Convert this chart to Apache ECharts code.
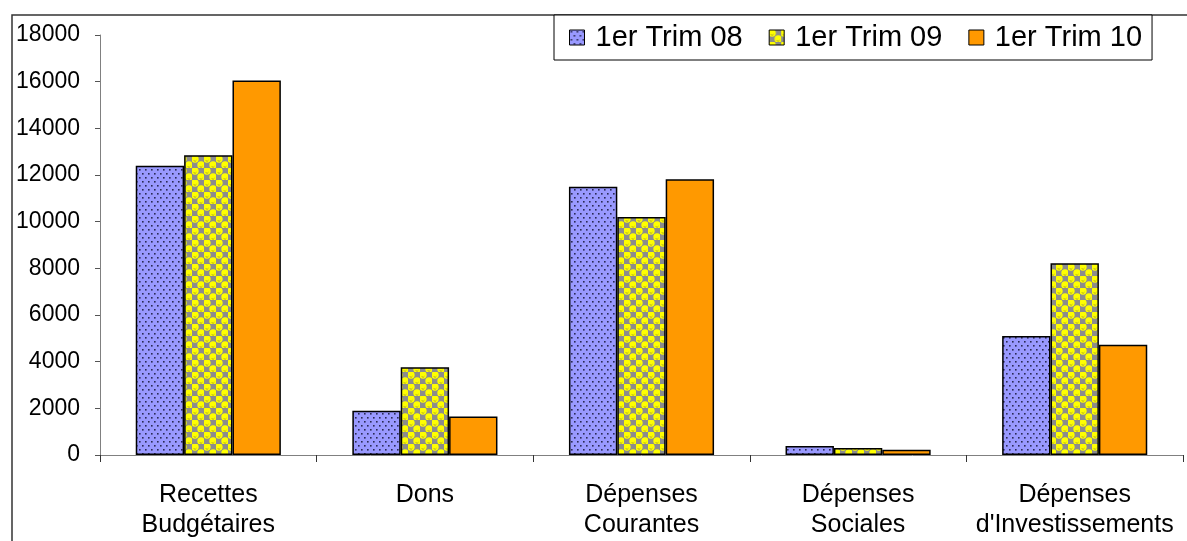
<!DOCTYPE html>
<html>
<head>
<meta charset="utf-8">
<script src="https://cdn.jsdelivr.net/npm/echarts@6/dist/echarts.min.js"></script>
<style>
  html, body { margin: 0; padding: 0; background: #ffffff; }
  #chart { width: 1187px; height: 541px; }
</style>
</head>
<body>
<div id="chart"></div>
<script>
const categories = ['Recettes\nBudgétaires', 'Dons', 'Dépenses\nCourantes', 'Dépenses\nSociales', "Dépenses\nd'Investissements"];
const seriesNames = ['1er Trim 08', '1er Trim 09', '1er Trim 10'];
const trim08 = [12400, 1900, 11500, 390, 5100];
const trim09 = [12850, 3760, 10200, 300, 8220];
const trim10 = [16050, 1650, 11820, 230, 4720];
const yTicks = { min: 0, max: 18000, interval: 2000 };

function dotPattern() {
  const c = document.createElement('canvas');
  c.width = 6; c.height = 8;
  const g = c.getContext('2d');
  g.fillStyle = '#9999FF';
  g.fillRect(0, 0, 6, 8);
  g.fillStyle = '#2a2a55';
  g.fillRect(1, 1, 1.6, 1.6);
  g.fillRect(4, 5, 1.6, 1.6);
  return c;
}
function bubblePattern() {
  const c = document.createElement('canvas');
  c.width = 12; c.height = 12;
  const g = c.getContext('2d');
  g.fillStyle = '#8c8c8c';
  g.fillRect(0, 0, 12, 12);
  g.fillStyle = '#FFFF00';
  const centers = [[3, 3], [9, 9]];
  centers.forEach(([x, y]) => {
    g.beginPath(); g.arc(x, y, 3.7, 0, Math.PI * 2); g.fill();
  });
  g.strokeStyle = '#9a9430';
  g.lineWidth = 0.8;
  centers.forEach(([x, y]) => {
    g.beginPath(); g.arc(x, y + 0.5, 1.6, 0.15 * Math.PI, 0.85 * Math.PI); g.stroke();
  });
  return c;
}

const fills = [
  { image: dotPattern(), repeat: 'repeat' },
  { image: bubblePattern(), repeat: 'repeat' },
  '#FF9900'
];
const dataSets = [trim08, trim09, trim10];

const chart = echarts.init(document.getElementById('chart'), null, { renderer: 'canvas' });
const option = {
  animation: false,
  backgroundColor: '#ffffff',
  textStyle: { fontFamily: '"Liberation Sans", Arial, sans-serif' },
  graphic: [{
    type: 'rect',
    shape: { x: 12, y: 15, width: 1250, height: 600 },
    style: { fill: 'none', stroke: '#333', lineWidth: 1.5 },
    z: 0
  }],
  legend: {
    left: 554, top: 15,
    width: 620,
    orient: 'horizontal',
    backgroundColor: '#ffffff',
    borderColor: '#000',
    borderWidth: 1,
    borderRadius: 0,
    padding: [8, 10, 8, 15],
    itemGap: 26,
    itemWidth: 15,
    itemHeight: 15,
    icon: 'rect',
    itemStyle: { borderColor: '#000', borderWidth: 1 },
    textStyle: { fontSize: 29, color: '#000', padding: [0, 0, 0, 6], fontFamily: '"Liberation Sans", Arial, sans-serif' },
    data: seriesNames
  },
  grid: { left: 100, right: 4, top: 35, bottom: 86, containLabel: false },
  xAxis: {
    type: 'category',
    data: categories,
    boundaryGap: true,
    axisLine: { lineStyle: { color: '#808080', width: 1 } },
    axisTick: { show: true, length: 7, lineStyle: { color: '#333' }, alignWithLabel: false },
    axisLabel: { interval: 0, fontSize: 25, lineHeight: 30, margin: 25, color: '#000', fontFamily: '"Liberation Sans", Arial, sans-serif' },
    splitLine: { show: false }
  },
  yAxis: {
    type: 'value',
    min: yTicks.min, max: yTicks.max, interval: yTicks.interval,
    axisLine: { show: true, lineStyle: { color: '#808080', width: 1 } },
    axisTick: { show: true, length: 5, lineStyle: { color: '#555' } },
    axisLabel: { fontSize: 23, margin: 20, color: '#000', formatter: v => String(v), fontFamily: '"Liberation Sans", Arial, sans-serif' },
    splitLine: { show: false }
  },
  series: seriesNames.map((name, i) => ({
    name: name,
    type: 'bar',
    data: dataSets[i],
    barGap: '0%',
    barCategoryGap: '33%',
    itemStyle: { color: fills[i], borderColor: '#000', borderWidth: 1.5 },
    emphasis: { disabled: true }
  }))
};
chart.setOption(option);
</script>
</body>
</html>
